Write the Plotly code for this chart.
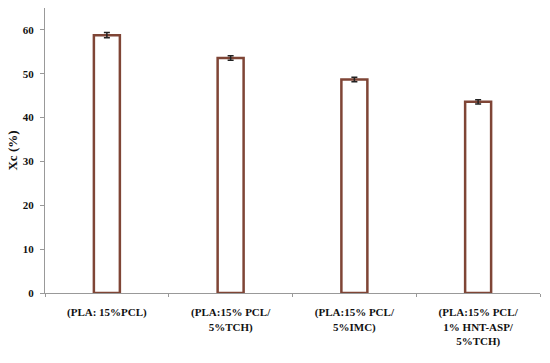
import plotly.graph_objects as go

categories = ["(PLA: 15%PCL)", "(PLA:15% PCL/<br>5%TCH)", "(PLA:15% PCL/<br>5%IMC)",
              "(PLA:15% PCL/<br>1% HNT-ASP/<br>5%TCH)"]
xc_values = [58.8, 53.6, 48.7, 43.6]
xc_errors = [0.6, 0.5, 0.5, 0.5]
y_ticks = [0, 10, 20, 30, 40, 50, 60]

brown = "#7f4536"
font_family = "Liberation Serif, Times New Roman, serif"

fig = go.Figure(go.Bar(
    x=categories, y=xc_values,
    marker=dict(color="white", line=dict(color=brown, width=2.5)),
    error_y=dict(type="data", array=xc_errors, color="#222222", thickness=1.5, width=3),
    width=0.21,
))

fig.update_layout(
    width=550, height=363,
    margin=dict(l=45, r=10, t=8, b=70, autoexpand=False),
    plot_bgcolor="white", paper_bgcolor="white",
    font=dict(family=font_family, size=11, color="#111111"),
    showlegend=False,
    xaxis=dict(
        showline=True, linecolor="#999999", linewidth=1,
        ticks="outside", tickson="boundaries", ticklen=3, tickcolor="#999999",
        tickfont=dict(family=font_family, size=11, color="#111111", weight="bold"),
        ticklabelstandoff=9,
        showgrid=False, automargin=False,
    ),
    yaxis=dict(
        range=[0, 65], tickvals=y_ticks,
        showline=True, linecolor="#999999", linewidth=1,
        ticks="outside", ticklen=4, tickcolor="#999999",
        tickfont=dict(family=font_family, size=11, color="#111111", weight="bold"),
        ticklabelstandoff=4,
        showgrid=False, zeroline=False, automargin=False,
        title=dict(text="Xc (%)", font=dict(family=font_family, size=13, color="#111111", weight="bold"), standoff=2),
    ),
)

fig.write_html("out.html", config={"displayModeBar": False},
               post_script="document.body.style.margin='0';")
